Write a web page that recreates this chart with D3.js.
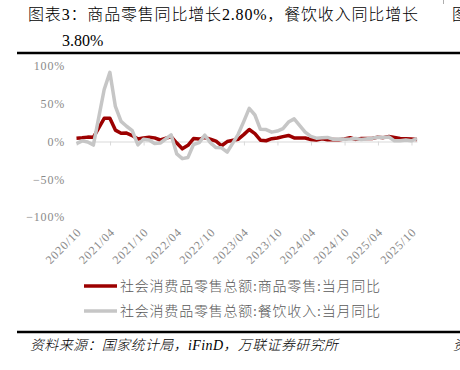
<!DOCTYPE html>
<html>
<head>
<meta charset="utf-8">
<script src="https://cdn.jsdelivr.net/npm/d3@7"></script>
<style>
  body { margin: 0; background: #fff; }
  svg { display: block; }
</style>
</head>
<body>
<div id="chart"></div>
<script>
// Monthly data (January is combined into February in the source, so it is missing)
const months = [
  "2020/09", "2020/10", "2020/11", "2020/12",
  "2021/02", "2021/03", "2021/04", "2021/05", "2021/06", "2021/07", "2021/08", "2021/09", "2021/10", "2021/11", "2021/12",
  "2022/02", "2022/03", "2022/04", "2022/05", "2022/06", "2022/07", "2022/08", "2022/09", "2022/10", "2022/11", "2022/12",
  "2023/02", "2023/03", "2023/04", "2023/05", "2023/06", "2023/07", "2023/08", "2023/09", "2023/10", "2023/11", "2023/12",
  "2024/02", "2024/03", "2024/04", "2024/05", "2024/06", "2024/07", "2024/08", "2024/09", "2024/10", "2024/11", "2024/12",
  "2025/02", "2025/03", "2025/04", "2025/05", "2025/06", "2025/07", "2025/08", "2025/09", "2025/10"
];
const goodsYoY = [
  4.4, 5.0, 5.8, 5.6,
  30.7, 30.9, 15.1, 10.9, 11.1, 7.9, 3.3, 4.8, 5.5, 4.8, 2.0,
  6.5, -2.1, -9.7, -5.0, 3.9, 3.2, 5.1, 3.0, 0.5, -5.6, -0.1,
  2.9, 9.1, 15.9, 10.5, 1.7, 1.0, 3.7, 4.6, 6.5, 8.0, 4.8,
  4.6, 2.7, 2.0, 3.6, 2.2, 2.7, 2.4, 3.3, 5.0, 2.8, 3.9,
  3.9, 5.8, 5.1, 6.5, 5.3, 4.0, 3.6, 3.3, 2.8
];
const cateringYoY = [
  -2.9, 0.8, -0.6, -4.7,
  68.9, 91.6, 46.4, 26.6, 20.2, 14.3, -4.5, 3.1, 2.0, -2.7, -2.0,
  8.9, -16.4, -22.7, -21.1, -4.0, -1.5, 8.4, -1.7, -8.1, -8.4, -14.1,
  9.2, 26.3, 43.8, 35.1, 16.1, 15.8, 12.4, 13.8, 17.1, 25.8, 30.0,
  12.5, 6.9, 4.4, 5.0, 5.4, 3.0, 3.3, 3.1, 3.2, 4.0, 2.7,
  4.3, 5.6, 5.2, 5.9, 0.9, 1.1, 2.1, 0.9, 3.8
];
const tickMonths = [
  "2020/10", "2021/04", "2021/10", "2022/04", "2022/10", "2023/04",
  "2023/10", "2024/04", "2024/10", "2025/04", "2025/10"
];
const yTicks = [100, 50, 0, -50, -100];
const seriesNames = [
  "社会消费品零售总额:商品零售:当月同比",
  "社会消费品零售总额:餐饮收入:当月同比"
];

const width = 460;
const height = 370;
const RED = "#9c0000";
const GREY = "#c6c6c6";
const CJK = "'Liberation Serif', 'Noto Sans CJK SC', serif";

const svg = d3
  .select("#chart")
  .append("svg")
  .attr("width", width)
  .attr("height", height);

// Title (two lines)
svg
  .append("text")
  .attr("x", 28)
  .attr("y", 20)
  .attr("textLength", 390)
  .attr("lengthAdjust", "spacing")
  .style("font-family", CJK)
  .style("font-size", "16px")
  .style("font-weight", 300)
  .attr("fill", "#000")
  .text("图表3：商品零售同比增长2.80%，餐饮收入同比增长");

svg
  .append("text")
  .attr("x", 62)
  .attr("y", 46)
  .style("font-family", CJK)
  .style("font-size", "16px")
  .attr("fill", "#000")
  .text("3.80%");

// cut-off neighbour panel (clipped at the right edge, as in the source)
svg
  .append("text")
  .attr("x", 452)
  .attr("y", 20)
  .style("font-family", CJK)
  .style("font-size", "16px")
  .style("font-weight", 300)
  .attr("fill", "#000")
  .text("图");

svg
  .append("text")
  .attr("x", 453)
  .attr("y", 350)
  .style("font-family", CJK)
  .style("font-size", "14px")
  .style("font-style", "italic")
  .style("font-weight", 300)
  .attr("fill", "#000")
  .text("资");

// Separator rules
[53, 332].forEach((y) => {
  svg
    .append("line")
    .attr("x1", 17)
    .attr("x2", width)
    .attr("y1", y)
    .attr("y2", y)
    .attr("stroke", "#000")
    .attr("stroke-width", 2.5);
});
svg
  .append("line")
  .attr("x1", 443.5)
  .attr("x2", 443.5)
  .attr("y1", 0)
  .attr("y2", 4)
  .attr("stroke", "#999")
  .attr("stroke-width", 0.8);

// Scales
const parseMonth = d3.timeParse("%Y/%m");
const monthEnd = (s) => d3.timeDay.offset(d3.timeMonth.offset(parseMonth(s), 1), -1);
const monthStart = (s) => parseMonth(s);

const x = d3
  .scaleTime()
  .domain([monthEnd("2020/09"), monthEnd("2025/10")])
  .range([76.5, 417]);

const y = d3.scaleLinear().domain([-100, 100]).range([217, 66]);

const goodsData = months.map((m, i) => ({ date: monthEnd(m), value: goodsYoY[i] }));
const cateringData = months.map((m, i) => ({ date: monthEnd(m), value: cateringYoY[i] }));

// Y axis labels
const yAxis = d3
  .axisLeft(y)
  .tickValues(yTicks)
  .tickSize(0)
  .tickPadding(0)
  .tickFormat((d) => (d < 0 ? "\u2212" + Math.abs(d) : d) + "%");

svg
  .append("g")
  .attr("transform", "translate(65, 0)")
  .call(yAxis)
  .call((g) => g.select(".domain").remove())
  .selectAll("text")
  .style("font-family", "'Liberation Serif', serif")
  .style("font-size", "12px")
  .style("letter-spacing", "0.8px")
  .attr("fill", "#8a8a8a");

// Zero line with tick marks
const tickDates = tickMonths.map(monthStart);
const xAxis = d3
  .axisBottom(x)
  .tickValues(tickDates)
  .tickSizeInner(4)
  .tickSizeOuter(0)
  .tickFormat("");

svg
  .append("g")
  .attr("transform", `translate(0, ${y(0)})`)
  .call(xAxis)
  .call((g) => g.selectAll("line, path").attr("stroke", "#d9d9d9"));

// X labels, placed at the bottom of the plot
const xLabels = d3
  .axisBottom(x)
  .tickValues(tickDates)
  .tickSize(0)
  .tickFormat(d3.timeFormat("%Y/%m"));

svg
  .append("g")
  .attr("transform", "translate(0, 233)")
  .call(xLabels)
  .call((g) => g.select(".domain").remove())
  .selectAll("text")
  .attr("text-anchor", "end")
  .attr("dy", 0)
  .attr("y", 0)
  .attr("transform", "translate(5, 0) rotate(-45)")
  .style("font-family", "'Liberation Serif', serif")
  .style("font-size", "12px")
  .style("letter-spacing", "0.8px")
  .attr("fill", "#8a8a8a");

// Lines
const line = d3
  .line()
  .x((d) => x(d.date))
  .y((d) => y(d.value));

[
  { data: goodsData, color: RED },
  { data: cateringData, color: GREY },
].forEach((s) => {
  svg
    .append("path")
    .datum(s.data)
    .attr("fill", "none")
    .attr("stroke", s.color)
    .attr("stroke-width", 3.5)
    .attr("stroke-linejoin", "round")
    .attr("d", line);
});

// Legend
const legend = svg
  .selectAll(".legend-item")
  .data(seriesNames)
  .join("g")
  .attr("class", "legend-item")
  .attr("transform", (d, i) => `translate(84, ${286 + i * 25})`);

legend
  .append("line")
  .attr("x1", 0)
  .attr("x2", 33)
  .attr("stroke", (d, i) => (i === 0 ? RED : GREY))
  .attr("stroke-width", 3.5);

legend
  .append("text")
  .attr("x", 36)
  .attr("y", 5)
  .attr("textLength", 260)
  .attr("lengthAdjust", "spacing")
  .style("font-family", CJK)
  .style("font-size", "14px")
  .style("font-weight", 300)
  .attr("fill", "#595959")
  .text((d) => d);

// Source
svg
  .append("text")
  .attr("x", 30)
  .attr("y", 350)
  .attr("textLength", 308)
  .attr("lengthAdjust", "spacing")
  .style("font-family", CJK)
  .style("font-size", "14px")
  .style("font-style", "italic")
  .style("font-weight", 300)
  .attr("fill", "#000")
  .text("资料来源：国家统计局，iFinD，万联证券研究所");
</script>
</body>
</html>
